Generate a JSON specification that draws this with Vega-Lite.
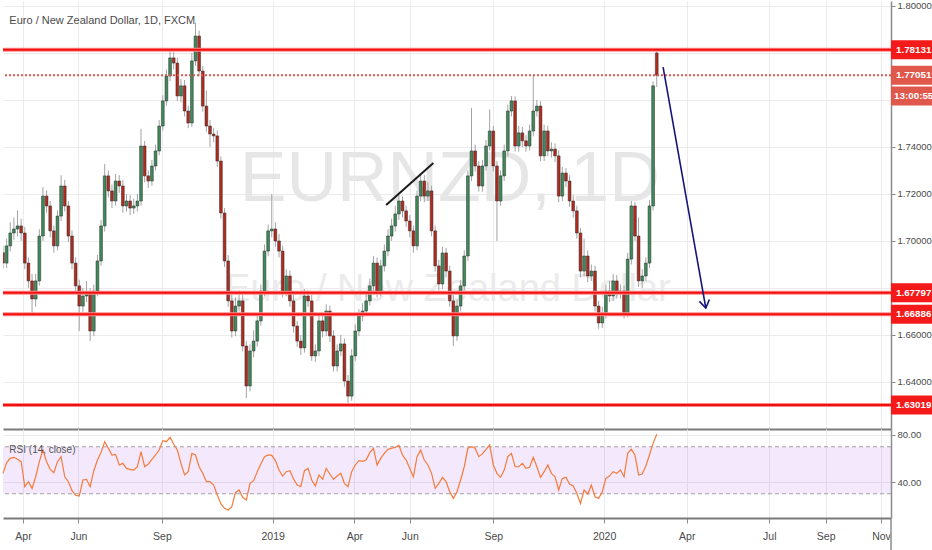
{
  "$schema": "https://vega.github.io/schema/vega-lite/v6.json",
  "description": "EURNZD daily candles with RSI",
  "padding": 0,
  "autosize": {"type": "pad"},
  "background": "#ffffff",
  "spacing": 0,
  "config": {
    "font": "Liberation Sans, Arial, sans-serif",
    "view": {"stroke": null},
    "axis": {
      "title": null,
      "labelFont": "Liberation Sans, Arial, sans-serif",
      "labelColor": "#4a4a4a",
      "labelFontSize": 9.5,
      "gridColor": "#ebebeb",
      "domainColor": "#8c8c8c",
      "tickColor": "#8c8c8c",
      "labelOverlap": false,
      "labelFlush": false
    }
  },
  "datasets": {
    "px": [
      {"d":"2018-03-10","o":1.6950,"h":1.6980,"l":1.6880,"c":1.6906,"r":47.4},
      {"d":"2018-03-14","o":1.6906,"h":1.7010,"l":1.6885,"c":1.6979,"r":56.5},
      {"d":"2018-03-18","o":1.6979,"h":1.7080,"l":1.6955,"c":1.7034,"r":60.1},
      {"d":"2018-03-22","o":1.7034,"h":1.7100,"l":1.7005,"c":1.7051,"r":61.0},
      {"d":"2018-03-26","o":1.7051,"h":1.7130,"l":1.7020,"c":1.7064,"r":59.3},
      {"d":"2018-03-30","o":1.7064,"h":1.7095,"l":1.7000,"c":1.7034,"r":57.3},
      {"d":"2018-04-03","o":1.7034,"h":1.7060,"l":1.6880,"c":1.6906,"r":36.0},
      {"d":"2018-04-07","o":1.6906,"h":1.6930,"l":1.6800,"c":1.6830,"r":40.3},
      {"d":"2018-04-11","o":1.6830,"h":1.6860,"l":1.6681,"c":1.6753,"r":34.6},
      {"d":"2018-04-15","o":1.6753,"h":1.6860,"l":1.6720,"c":1.6830,"r":44.5},
      {"d":"2018-04-19","o":1.6830,"h":1.7050,"l":1.6810,"c":1.7021,"r":57.3},
      {"d":"2018-04-23","o":1.7021,"h":1.7230,"l":1.7000,"c":1.7191,"r":67.2},
      {"d":"2018-04-27","o":1.7191,"h":1.7215,"l":1.7120,"c":1.7149,"r":57.3},
      {"d":"2018-05-01","o":1.7149,"h":1.7170,"l":1.7015,"c":1.7043,"r":50.8},
      {"d":"2018-05-05","o":1.7043,"h":1.7065,"l":1.6950,"c":1.6979,"r":47.9},
      {"d":"2018-05-09","o":1.6979,"h":1.7130,"l":1.6960,"c":1.7106,"r":57.3},
      {"d":"2018-05-13","o":1.7106,"h":1.7280,"l":1.7085,"c":1.7234,"r":61.6},
      {"d":"2018-05-17","o":1.7234,"h":1.7260,"l":1.7125,"c":1.7149,"r":44.5},
      {"d":"2018-05-21","o":1.7149,"h":1.7170,"l":1.6995,"c":1.7021,"r":40.3},
      {"d":"2018-05-25","o":1.7021,"h":1.7045,"l":1.6880,"c":1.6906,"r":32.6},
      {"d":"2018-05-29","o":1.6906,"h":1.6930,"l":1.6780,"c":1.6809,"r":28.7},
      {"d":"2018-06-02","o":1.6809,"h":1.6835,"l":1.6617,"c":1.6723,"r":28.1},
      {"d":"2018-06-06","o":1.6723,"h":1.6800,"l":1.6695,"c":1.6766,"r":41.7},
      {"d":"2018-06-10","o":1.6766,"h":1.6830,"l":1.6740,"c":1.6779,"r":42.3},
      {"d":"2018-06-14","o":1.6779,"h":1.6800,"l":1.6574,"c":1.6617,"r":36.0},
      {"d":"2018-06-18","o":1.6617,"h":1.6815,"l":1.6595,"c":1.6787,"r":49.6},
      {"d":"2018-06-22","o":1.6787,"h":1.6940,"l":1.6765,"c":1.6915,"r":58.7},
      {"d":"2018-06-26","o":1.6915,"h":1.7090,"l":1.6895,"c":1.7064,"r":65.2},
      {"d":"2018-06-30","o":1.7064,"h":1.7328,"l":1.7040,"c":1.7277,"r":74.3},
      {"d":"2018-07-04","o":1.7277,"h":1.7300,"l":1.7185,"c":1.7213,"r":68.7},
      {"d":"2018-07-08","o":1.7213,"h":1.7240,"l":1.7140,"c":1.7170,"r":63.0},
      {"d":"2018-07-12","o":1.7170,"h":1.7285,"l":1.7150,"c":1.7255,"r":63.5},
      {"d":"2018-07-16","o":1.7255,"h":1.7280,"l":1.7205,"c":1.7234,"r":54.5},
      {"d":"2018-07-20","o":1.7234,"h":1.7260,"l":1.7120,"c":1.7149,"r":55.9},
      {"d":"2018-07-24","o":1.7149,"h":1.7200,"l":1.7125,"c":1.7170,"r":51.6},
      {"d":"2018-07-28","o":1.7170,"h":1.7195,"l":1.7110,"c":1.7140,"r":50.8},
      {"d":"2018-08-01","o":1.7140,"h":1.7180,"l":1.7115,"c":1.7149,"r":50.2},
      {"d":"2018-08-05","o":1.7149,"h":1.7200,"l":1.7125,"c":1.7170,"r":53.0},
      {"d":"2018-08-09","o":1.7170,"h":1.7477,"l":1.7150,"c":1.7404,"r":65.8},
      {"d":"2018-08-13","o":1.7404,"h":1.7425,"l":1.7250,"c":1.7277,"r":53.0},
      {"d":"2018-08-17","o":1.7277,"h":1.7300,"l":1.7225,"c":1.7255,"r":55.3},
      {"d":"2018-08-21","o":1.7255,"h":1.7345,"l":1.7235,"c":1.7319,"r":59.3},
      {"d":"2018-08-25","o":1.7319,"h":1.7410,"l":1.7300,"c":1.7383,"r":63.0},
      {"d":"2018-08-29","o":1.7383,"h":1.7515,"l":1.7365,"c":1.7489,"r":67.2},
      {"d":"2018-09-02","o":1.7489,"h":1.7620,"l":1.7470,"c":1.7596,"r":75.2},
      {"d":"2018-09-06","o":1.7596,"h":1.7730,"l":1.7575,"c":1.7702,"r":74.3},
      {"d":"2018-09-10","o":1.7702,"h":1.7821,"l":1.7680,"c":1.7779,"r":78.0},
      {"d":"2018-09-14","o":1.7779,"h":1.7805,"l":1.7730,"c":1.7757,"r":72.3},
      {"d":"2018-09-18","o":1.7757,"h":1.7780,"l":1.7595,"c":1.7617,"r":67.2},
      {"d":"2018-09-22","o":1.7617,"h":1.7690,"l":1.7590,"c":1.7660,"r":55.9},
      {"d":"2018-09-26","o":1.7660,"h":1.7685,"l":1.7530,"c":1.7553,"r":46.0},
      {"d":"2018-09-30","o":1.7553,"h":1.7575,"l":1.7480,"c":1.7502,"r":48.8},
      {"d":"2018-10-04","o":1.7502,"h":1.7800,"l":1.7485,"c":1.7766,"r":64.4},
      {"d":"2018-10-08","o":1.7766,"h":1.7928,"l":1.7745,"c":1.7872,"r":63.0},
      {"d":"2018-10-12","o":1.7872,"h":1.7895,"l":1.7700,"c":1.7723,"r":53.0},
      {"d":"2018-10-16","o":1.7723,"h":1.7745,"l":1.7550,"c":1.7574,"r":47.4},
      {"d":"2018-10-20","o":1.7574,"h":1.7640,"l":1.7465,"c":1.7489,"r":40.3},
      {"d":"2018-10-24","o":1.7489,"h":1.7515,"l":1.7400,"c":1.7455,"r":40.3},
      {"d":"2018-10-28","o":1.7455,"h":1.7480,"l":1.7420,"c":1.7447,"r":37.4},
      {"d":"2018-11-01","o":1.7447,"h":1.7470,"l":1.7315,"c":1.7340,"r":28.9},
      {"d":"2018-11-05","o":1.7340,"h":1.7360,"l":1.7095,"c":1.7119,"r":21.3},
      {"d":"2018-11-09","o":1.7119,"h":1.7140,"l":1.6890,"c":1.6915,"r":17.6},
      {"d":"2018-11-13","o":1.6915,"h":1.6940,"l":1.6720,"c":1.6745,"r":16.2},
      {"d":"2018-11-17","o":1.6745,"h":1.6770,"l":1.6590,"c":1.6617,"r":19.0},
      {"d":"2018-11-21","o":1.6617,"h":1.6760,"l":1.6595,"c":1.6723,"r":30.9},
      {"d":"2018-11-25","o":1.6723,"h":1.6790,"l":1.6700,"c":1.6745,"r":33.2},
      {"d":"2018-11-29","o":1.6745,"h":1.6770,"l":1.6530,"c":1.6553,"r":27.0},
      {"d":"2018-12-03","o":1.6553,"h":1.6575,"l":1.6332,"c":1.6383,"r":24.7},
      {"d":"2018-12-07","o":1.6383,"h":1.6560,"l":1.6360,"c":1.6532,"r":38.9},
      {"d":"2018-12-11","o":1.6532,"h":1.6620,"l":1.6505,"c":1.6574,"r":41.1},
      {"d":"2018-12-15","o":1.6574,"h":1.6690,"l":1.6550,"c":1.6660,"r":48.8},
      {"d":"2018-12-19","o":1.6660,"h":1.6815,"l":1.6640,"c":1.6787,"r":55.3},
      {"d":"2018-12-23","o":1.6787,"h":1.6985,"l":1.6765,"c":1.6957,"r":61.6},
      {"d":"2018-12-27","o":1.6957,"h":1.7070,"l":1.6935,"c":1.7043,"r":63.0},
      {"d":"2018-12-31","o":1.7043,"h":1.7200,"l":1.7015,"c":1.7051,"r":62.7},
      {"d":"2019-01-04","o":1.7051,"h":1.7080,"l":1.6975,"c":1.7000,"r":58.2},
      {"d":"2019-01-08","o":1.7000,"h":1.7030,"l":1.6930,"c":1.6957,"r":50.2},
      {"d":"2019-01-12","o":1.6957,"h":1.6980,"l":1.6760,"c":1.6787,"r":45.1},
      {"d":"2019-01-16","o":1.6787,"h":1.6880,"l":1.6765,"c":1.6851,"r":48.8},
      {"d":"2019-01-20","o":1.6851,"h":1.6875,"l":1.6720,"c":1.6745,"r":49.6},
      {"d":"2019-01-24","o":1.6745,"h":1.6770,"l":1.6610,"c":1.6638,"r":42.6},
      {"d":"2019-01-28","o":1.6638,"h":1.6660,"l":1.6550,"c":1.6574,"r":37.4},
      {"d":"2019-02-01","o":1.6574,"h":1.6600,"l":1.6515,"c":1.6545,"r":36.0},
      {"d":"2019-02-05","o":1.6545,"h":1.6795,"l":1.6525,"c":1.6766,"r":49.6},
      {"d":"2019-02-09","o":1.6766,"h":1.6790,"l":1.6720,"c":1.6745,"r":51.6},
      {"d":"2019-02-13","o":1.6745,"h":1.6770,"l":1.6490,"c":1.6511,"r":41.7},
      {"d":"2019-02-17","o":1.6511,"h":1.6560,"l":1.6485,"c":1.6532,"r":36.6},
      {"d":"2019-02-21","o":1.6532,"h":1.6690,"l":1.6510,"c":1.6660,"r":46.0},
      {"d":"2019-02-25","o":1.6660,"h":1.6685,"l":1.6590,"c":1.6617,"r":42.3},
      {"d":"2019-03-01","o":1.6617,"h":1.6730,"l":1.6595,"c":1.6702,"r":51.6},
      {"d":"2019-03-05","o":1.6702,"h":1.6725,"l":1.6570,"c":1.6596,"r":46.8},
      {"d":"2019-03-09","o":1.6596,"h":1.6620,"l":1.6445,"c":1.6468,"r":42.3},
      {"d":"2019-03-13","o":1.6468,"h":1.6560,"l":1.6445,"c":1.6532,"r":45.1},
      {"d":"2019-03-17","o":1.6532,"h":1.6600,"l":1.6510,"c":1.6562,"r":47.4},
      {"d":"2019-03-21","o":1.6562,"h":1.6585,"l":1.6380,"c":1.6404,"r":38.9},
      {"d":"2019-03-25","o":1.6404,"h":1.6430,"l":1.6306,"c":1.6340,"r":36.0},
      {"d":"2019-03-29","o":1.6340,"h":1.6540,"l":1.6320,"c":1.6511,"r":48.8},
      {"d":"2019-04-02","o":1.6511,"h":1.6645,"l":1.6490,"c":1.6617,"r":54.5},
      {"d":"2019-04-06","o":1.6617,"h":1.6710,"l":1.6595,"c":1.6681,"r":58.2},
      {"d":"2019-04-10","o":1.6681,"h":1.6735,"l":1.6660,"c":1.6702,"r":57.6},
      {"d":"2019-04-14","o":1.6702,"h":1.6775,"l":1.6680,"c":1.6745,"r":58.7},
      {"d":"2019-04-18","o":1.6745,"h":1.6840,"l":1.6725,"c":1.6809,"r":65.0},
      {"d":"2019-04-22","o":1.6809,"h":1.6935,"l":1.6785,"c":1.6906,"r":68.7},
      {"d":"2019-04-26","o":1.6906,"h":1.6930,"l":1.6760,"c":1.6787,"r":54.5},
      {"d":"2019-04-30","o":1.6787,"h":1.6920,"l":1.6765,"c":1.6894,"r":60.1},
      {"d":"2019-05-04","o":1.6894,"h":1.6985,"l":1.6870,"c":1.6957,"r":64.4},
      {"d":"2019-05-08","o":1.6957,"h":1.7050,"l":1.6935,"c":1.7021,"r":67.8},
      {"d":"2019-05-12","o":1.7021,"h":1.7095,"l":1.7000,"c":1.7064,"r":68.7},
      {"d":"2019-05-16","o":1.7064,"h":1.7150,"l":1.7040,"c":1.7115,"r":69.5},
      {"d":"2019-05-20","o":1.7115,"h":1.7195,"l":1.7090,"c":1.7170,"r":71.2},
      {"d":"2019-05-24","o":1.7170,"h":1.7190,"l":1.7100,"c":1.7128,"r":63.0},
      {"d":"2019-05-28","o":1.7128,"h":1.7150,"l":1.7060,"c":1.7085,"r":58.7},
      {"d":"2019-06-01","o":1.7085,"h":1.7110,"l":1.7015,"c":1.7043,"r":51.6},
      {"d":"2019-06-05","o":1.7043,"h":1.7065,"l":1.6950,"c":1.6979,"r":44.5},
      {"d":"2019-06-09","o":1.6979,"h":1.7215,"l":1.6960,"c":1.7191,"r":61.6},
      {"d":"2019-06-13","o":1.7191,"h":1.7289,"l":1.7170,"c":1.7255,"r":67.2},
      {"d":"2019-06-17","o":1.7255,"h":1.7280,"l":1.7165,"c":1.7191,"r":58.7},
      {"d":"2019-06-21","o":1.7191,"h":1.7250,"l":1.7170,"c":1.7213,"r":54.5},
      {"d":"2019-06-25","o":1.7213,"h":1.7235,"l":1.7020,"c":1.7043,"r":47.4},
      {"d":"2019-06-29","o":1.7043,"h":1.7065,"l":1.6870,"c":1.6894,"r":34.6},
      {"d":"2019-07-03","o":1.6894,"h":1.6920,"l":1.6790,"c":1.6817,"r":38.9},
      {"d":"2019-07-07","o":1.6817,"h":1.6975,"l":1.6795,"c":1.6949,"r":44.0},
      {"d":"2019-07-11","o":1.6949,"h":1.6970,"l":1.6845,"c":1.6872,"r":40.3},
      {"d":"2019-07-15","o":1.6872,"h":1.6895,"l":1.6720,"c":1.6745,"r":31.8},
      {"d":"2019-07-19","o":1.6745,"h":1.6770,"l":1.6553,"c":1.6596,"r":26.1},
      {"d":"2019-07-23","o":1.6596,"h":1.6750,"l":1.6575,"c":1.6723,"r":31.8},
      {"d":"2019-07-27","o":1.6723,"h":1.6835,"l":1.6700,"c":1.6809,"r":41.7},
      {"d":"2019-07-31","o":1.6809,"h":1.6960,"l":1.6790,"c":1.6936,"r":53.0},
      {"d":"2019-08-04","o":1.6936,"h":1.7300,"l":1.6915,"c":1.7277,"r":68.7},
      {"d":"2019-08-08","o":1.7277,"h":1.7566,"l":1.7255,"c":1.7383,"r":70.1},
      {"d":"2019-08-12","o":1.7383,"h":1.7410,"l":1.7295,"c":1.7319,"r":68.7},
      {"d":"2019-08-16","o":1.7319,"h":1.7340,"l":1.7210,"c":1.7234,"r":61.6},
      {"d":"2019-08-20","o":1.7234,"h":1.7345,"l":1.7210,"c":1.7319,"r":63.9},
      {"d":"2019-08-24","o":1.7319,"h":1.7430,"l":1.7300,"c":1.7404,"r":67.8},
      {"d":"2019-08-28","o":1.7404,"h":1.7560,"l":1.7385,"c":1.7468,"r":71.5},
      {"d":"2019-09-01","o":1.7468,"h":1.7490,"l":1.7295,"c":1.7319,"r":54.5},
      {"d":"2019-09-05","o":1.7319,"h":1.7340,"l":1.7000,"c":1.7170,"r":47.4},
      {"d":"2019-09-09","o":1.7170,"h":1.7300,"l":1.7150,"c":1.7277,"r":44.0},
      {"d":"2019-09-13","o":1.7277,"h":1.7410,"l":1.7255,"c":1.7383,"r":50.2},
      {"d":"2019-09-17","o":1.7383,"h":1.7580,"l":1.7360,"c":1.7553,"r":61.6},
      {"d":"2019-09-21","o":1.7553,"h":1.7617,"l":1.7530,"c":1.7596,"r":64.4},
      {"d":"2019-09-25","o":1.7596,"h":1.7615,"l":1.7380,"c":1.7404,"r":53.0},
      {"d":"2019-09-29","o":1.7404,"h":1.7490,"l":1.7380,"c":1.7460,"r":53.0},
      {"d":"2019-10-03","o":1.7460,"h":1.7485,"l":1.7400,"c":1.7426,"r":55.9},
      {"d":"2019-10-07","o":1.7426,"h":1.7450,"l":1.7380,"c":1.7404,"r":51.6},
      {"d":"2019-10-11","o":1.7404,"h":1.7495,"l":1.7385,"c":1.7468,"r":52.5},
      {"d":"2019-10-15","o":1.7468,"h":1.7702,"l":1.7445,"c":1.7553,"r":61.0},
      {"d":"2019-10-19","o":1.7553,"h":1.7600,"l":1.7530,"c":1.7574,"r":53.0},
      {"d":"2019-10-23","o":1.7574,"h":1.7595,"l":1.7340,"c":1.7362,"r":44.0},
      {"d":"2019-10-27","o":1.7362,"h":1.7495,"l":1.7340,"c":1.7468,"r":48.8},
      {"d":"2019-10-31","o":1.7468,"h":1.7490,"l":1.7360,"c":1.7383,"r":54.5},
      {"d":"2019-11-04","o":1.7383,"h":1.7420,"l":1.7355,"c":1.7391,"r":47.4},
      {"d":"2019-11-08","o":1.7391,"h":1.7415,"l":1.7335,"c":1.7362,"r":44.5},
      {"d":"2019-11-12","o":1.7362,"h":1.7385,"l":1.7165,"c":1.7191,"r":33.2},
      {"d":"2019-11-16","o":1.7191,"h":1.7315,"l":1.7170,"c":1.7289,"r":43.1},
      {"d":"2019-11-20","o":1.7289,"h":1.7310,"l":1.7230,"c":1.7255,"r":44.0},
      {"d":"2019-11-24","o":1.7255,"h":1.7280,"l":1.7145,"c":1.7170,"r":38.3},
      {"d":"2019-11-28","o":1.7170,"h":1.7195,"l":1.7100,"c":1.7128,"r":36.6},
      {"d":"2019-12-02","o":1.7128,"h":1.7150,"l":1.7010,"c":1.7034,"r":30.4},
      {"d":"2019-12-06","o":1.7034,"h":1.7055,"l":1.6845,"c":1.6872,"r":21.8},
      {"d":"2019-12-10","o":1.6872,"h":1.7010,"l":1.6850,"c":1.6936,"r":33.2},
      {"d":"2019-12-14","o":1.6936,"h":1.6960,"l":1.6825,"c":1.6851,"r":29.8},
      {"d":"2019-12-18","o":1.6851,"h":1.6900,"l":1.6830,"c":1.6872,"r":37.4},
      {"d":"2019-12-22","o":1.6872,"h":1.6895,"l":1.6700,"c":1.6723,"r":27.5},
      {"d":"2019-12-26","o":1.6723,"h":1.6745,"l":1.6626,"c":1.6651,"r":26.1},
      {"d":"2019-12-30","o":1.6651,"h":1.6720,"l":1.6630,"c":1.6694,"r":31.8},
      {"d":"2020-01-03","o":1.6694,"h":1.6815,"l":1.6670,"c":1.6787,"r":43.1},
      {"d":"2020-01-07","o":1.6787,"h":1.6830,"l":1.6740,"c":1.6766,"r":45.1},
      {"d":"2020-01-11","o":1.6766,"h":1.6860,"l":1.6745,"c":1.6830,"r":48.8},
      {"d":"2020-01-15","o":1.6830,"h":1.6855,"l":1.6755,"c":1.6779,"r":47.4},
      {"d":"2020-01-19","o":1.6779,"h":1.6815,"l":1.6755,"c":1.6787,"r":50.2},
      {"d":"2020-01-23","o":1.6787,"h":1.6810,"l":1.6670,"c":1.6694,"r":44.5},
      {"d":"2020-01-27","o":1.6694,"h":1.6950,"l":1.6675,"c":1.6923,"r":64.4},
      {"d":"2020-01-31","o":1.6923,"h":1.7170,"l":1.6900,"c":1.7149,"r":67.8},
      {"d":"2020-02-04","o":1.7149,"h":1.7165,"l":1.7000,"c":1.7021,"r":63.0},
      {"d":"2020-02-08","o":1.7021,"h":1.7100,"l":1.6805,"c":1.6830,"r":46.0},
      {"d":"2020-02-12","o":1.6830,"h":1.6880,"l":1.6800,"c":1.6851,"r":46.8},
      {"d":"2020-02-16","o":1.6851,"h":1.6930,"l":1.6830,"c":1.6906,"r":53.6},
      {"d":"2020-02-20","o":1.6906,"h":1.7175,"l":1.6885,"c":1.7149,"r":63.0},
      {"d":"2020-02-24","o":1.7149,"h":1.7680,"l":1.7130,"c":1.7660,"r":72.9},
      {"d":"2020-02-28","o":1.7800,"h":1.78131,"l":1.7655,"c":1.77051,"r":80.6}
    ],
    "lv": [
      {"p":1.78131,"t":"1.78131","k":"s"},
      {"p":1.77051,"t":"1.77051","k":"d"},
      {"p":1.7617,"t":"13:00:55","k":"t"},
      {"p":1.67797,"t":"1.67797","k":"s"},
      {"p":1.66886,"t":"1.66886","k":"s"},
      {"p":1.63019,"t":"1.63019","k":"s"}
    ],
    "dr": [
      {"d":"2019-05-06","p":1.7153,"g":"trend"},
      {"d":"2019-06-27","p":1.7332,"g":"trend"},
      {"d":"2020-03-06","p":1.7740,"g":"arrow"},
      {"d":"2020-04-22","p":1.6715,"g":"arrow"},
      {"d":"2020-04-15","p":1.6743,"g":"head"},
      {"d":"2020-04-22","p":1.6715,"g":"head"},
      {"d":"2020-04-26","p":1.6751,"g":"head"}
    ]
  },
  "vconcat": [
    {
      "width": 888,
      "height": 428,
      "layer": [
        {
          "data": {"values": [{"d":"2019-07-15","p":1.7170,"t":"EURNZD, 1D"}]},
          "mark": {"type": "text", "fontSize": 70, "color": "#e6e6e6", "align": "center", "baseline": "alphabetic"},
          "encoding": {
            "x": {
              "field": "d", "type": "temporal",
              "scale": {"type": "utc", "nice": false, "padding": 0, "domain": [{"year":2018,"month":3,"date":10,"utc":true},{"year":2020,"month":11,"date":12,"utc":true}]},
              "axis": {
                "orient": "bottom", "labels": false, "ticks": false, "domain": true,
                "domainColor": "#7a7a7a", "domainWidth": 2, "grid": true,
                "values": [{"year":2018,"month":4,"date":1,"utc":true},{"year":2018,"month":6,"date":1,"utc":true},{"year":2018,"month":9,"date":1,"utc":true},{"year":2019,"month":1,"date":1,"utc":true},{"year":2019,"month":4,"date":1,"utc":true},{"year":2019,"month":6,"date":1,"utc":true},{"year":2019,"month":9,"date":1,"utc":true},{"year":2020,"month":1,"date":1,"utc":true},{"year":2020,"month":4,"date":1,"utc":true},{"year":2020,"month":7,"date":1,"utc":true},{"year":2020,"month":9,"date":1,"utc":true},{"year":2020,"month":11,"date":1,"utc":true}]
              }
            },
            "y": {
              "field": "p", "type": "quantitative",
              "scale": {"domain": [1.62, 1.8021], "zero": false, "nice": false, "padding": 0},
              "axis": {
                "orient": "right", "grid": true, "tickSize": 4, "labelPadding": 2,
                "domainWidth": 1.5,
                "values": [1.64, 1.66, 1.68, 1.70, 1.72, 1.74, 1.76, 1.78, 1.80],
                "labelExpr": "(abs(datum.value-1.68)<0.001 || abs(datum.value-1.76)<0.001 || abs(datum.value-1.78)<0.001) ? '' : format(datum.value, '.5f')"
              }
            },
            "text": {"field": "t"}
          }
        },
        {
          "data": {"values": [{"d":"2019-07-13","p":1.6745,"t":"Euro / New Zealand Dollar"}]},
          "mark": {"type": "text", "fontSize": 38, "color": "#ebebeb", "align": "center", "baseline": "alphabetic"},
          "encoding": {
            "x": {"field": "d", "type": "temporal"},
            "y": {"field": "p", "type": "quantitative"},
            "text": {"field": "t"}
          }
        },
        {
          "data": {"name": "px"},
          "mark": {"type": "rule", "color": "#a3a3a3", "strokeWidth": 1, "clip": true},
          "encoding": {
            "x": {"field": "d", "type": "temporal"},
            "y": {"field": "l", "type": "quantitative"},
            "y2": {"field": "h"}
          }
        },
        {
          "data": {"name": "px"},
          "mark": {"type": "bar", "size": 2.8, "stroke": "#2b2b2b", "strokeWidth": 0.5, "clip": true},
          "encoding": {
            "x": {"field": "d", "type": "temporal"},
            "y": {"field": "o", "type": "quantitative"},
            "y2": {"field": "c"},
            "fill": {"condition": {"test": "datum.c >= datum.o", "value": "#3e8a5b"}, "value": "#b12b1f"}
          }
        },
        {
          "data": {"name": "lv"},
          "transform": [{"filter": "datum.k == 's'"}],
          "mark": {"type": "rule", "color": "#ff8a8a", "strokeWidth": 4},
          "encoding": {"y": {"field": "p", "type": "quantitative"}}
        },
        {
          "data": {"name": "lv"},
          "transform": [{"filter": "datum.k == 's'"}],
          "mark": {"type": "rule", "color": "#f20f0f", "strokeWidth": 2},
          "encoding": {"y": {"field": "p", "type": "quantitative"}}
        },
        {
          "data": {"name": "lv"},
          "transform": [{"filter": "datum.k == 'd'"}],
          "mark": {"type": "rule", "color": "#e0574c", "strokeWidth": 2, "strokeDash": [2, 2]},
          "encoding": {"y": {"field": "p", "type": "quantitative"}}
        },
        {
          "data": {"name": "dr"},
          "transform": [{"filter": "datum.g == 'trend'"}],
          "mark": {"type": "line", "color": "#1c1c1c", "strokeWidth": 2},
          "encoding": {
            "x": {"field": "d", "type": "temporal"},
            "y": {"field": "p", "type": "quantitative"}
          }
        },
        {
          "data": {"name": "dr"},
          "transform": [{"filter": "datum.g != 'trend'"}],
          "mark": {"type": "line", "color": "#16167a", "strokeWidth": 1.6},
          "encoding": {
            "x": {"field": "d", "type": "temporal"},
            "y": {"field": "p", "type": "quantitative"},
            "detail": {"field": "g"}
          }
        },
        {
          "data": {"name": "lv"},
          "mark": {"type": "bar", "orient": "horizontal", "size": 19},
          "encoding": {
            "x": {"datum": {"year":2020,"month":11,"date":12,"utc":true}, "type": "temporal"},
            "x2": {"datum": {"year":2020,"month":12,"date":31,"utc":true}},
            "y": {"field": "p", "type": "quantitative"},
            "color": {"field": "k", "type": "nominal", "scale": {"domain": ["s", "d", "t"], "range": ["#f41a1a", "#e0574c", "#e0574c"]}, "legend": null}
          }
        },
        {
          "data": {"name": "lv"},
          "mark": {"type": "text", "color": "#ffffff", "fontSize": 9.8, "fontWeight": "bold", "align": "center", "baseline": "middle"},
          "encoding": {
            "x": {"datum": {"year":2020,"month":12,"date":7,"utc":true}, "type": "temporal"},
            "y": {"field": "p", "type": "quantitative"},
            "text": {"field": "t"}
          }
        },
        {
          "data": {"values": [{"d":"2018-03-17","p":1.7936,"t":"Euro / New Zealand Dollar, 1D, FXCM"}]},
          "mark": {"type": "text", "fontSize": 11, "color": "#4a4a4a", "align": "left", "baseline": "middle"},
          "encoding": {
            "x": {"field": "d", "type": "temporal"},
            "y": {"field": "p", "type": "quantitative"},
            "text": {"field": "t"}
          }
        }
      ]
    },
    {
      "width": 888,
      "height": 89,
      "layer": [
        {
          "data": {"values": [{"lo":30,"hi":70}]},
          "mark": {"type": "rect", "fill": "#a24dea", "opacity": 0.12},
          "encoding": {
            "x": {
              "datum": {"year":2018,"month":3,"date":10,"utc":true}, "type": "temporal",
              "scale": {"type": "utc", "nice": false, "padding": 0, "domain": [{"year":2018,"month":3,"date":10,"utc":true},{"year":2020,"month":11,"date":12,"utc":true}]},
              "axis": {
                "orient": "bottom", "grid": true, "tickSize": 5, "labelPadding": 8,
                "labelFontSize": 10.5, "domainColor": "#7a7a7a", "domainWidth": 2,
                "values": [{"year":2018,"month":4,"date":1,"utc":true},{"year":2018,"month":6,"date":1,"utc":true},{"year":2018,"month":9,"date":1,"utc":true},{"year":2019,"month":1,"date":1,"utc":true},{"year":2019,"month":4,"date":1,"utc":true},{"year":2019,"month":6,"date":1,"utc":true},{"year":2019,"month":9,"date":1,"utc":true},{"year":2020,"month":1,"date":1,"utc":true},{"year":2020,"month":4,"date":1,"utc":true},{"year":2020,"month":7,"date":1,"utc":true},{"year":2020,"month":9,"date":1,"utc":true},{"year":2020,"month":11,"date":1,"utc":true}],
                "labelExpr": "utcFormat(datum.value, '%m') == '01' ? utcFormat(datum.value, '%Y') : utcFormat(datum.value, '%b')"
              }
            },
            "x2": {"datum": {"year":2020,"month":11,"date":12,"utc":true}},
            "y": {
              "field": "lo", "type": "quantitative",
              "scale": {"domain": [9.4, 85.1], "zero": false, "nice": false, "padding": 0},
              "axis": {"orient": "right", "grid": true, "tickSize": 4, "labelPadding": 2, "domainWidth": 1.5, "values": [40, 80], "format": ".2f"}
            },
            "y2": {"field": "hi"}
          }
        },
        {
          "data": {"values": [{"v":30},{"v":70}]},
          "mark": {"type": "rule", "color": "#a0a0a0", "strokeWidth": 1, "strokeDash": [4, 3]},
          "encoding": {"y": {"field": "v", "type": "quantitative"}}
        },
        {
          "data": {"values": [{"a":9.4,"b":-18}]},
          "mark": {"type": "rule", "color": "#8c8c8c", "strokeWidth": 1.5},
          "encoding": {
            "x": {"datum": {"year":2020,"month":11,"date":12,"utc":true}, "type": "temporal"},
            "y": {"field": "a", "type": "quantitative"},
            "y2": {"field": "b"}
          }
        },
        {
          "data": {"name": "px"},
          "mark": {"type": "line", "color": "#f47b3b", "strokeWidth": 1.2},
          "encoding": {
            "x": {"field": "d", "type": "temporal"},
            "y": {"field": "r", "type": "quantitative"}
          }
        },
        {
          "data": {"values": [{"d":"2018-03-17","v":67.2,"t":"RSI (14, close)"}]},
          "mark": {"type": "text", "fontSize": 10, "color": "#555555", "align": "left", "baseline": "middle"},
          "encoding": {
            "x": {"field": "d", "type": "temporal"},
            "y": {"field": "v", "type": "quantitative"},
            "text": {"field": "t"}
          }
        }
      ]
    }
  ],
  "resolve": {"scale": {"x": "independent", "y": "independent"}}
}
